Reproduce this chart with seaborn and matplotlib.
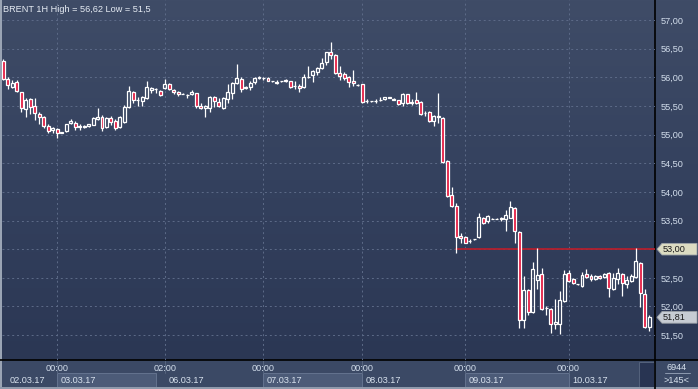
import numpy as np
import pandas as pd
import matplotlib
matplotlib.use("Agg")
import matplotlib.pyplot as plt
import seaborn as sns
from matplotlib.patches import Polygon, Rectangle
from matplotlib.colors import LinearSegmentedColormap
from matplotlib import transforms

# ---------------- data (BRENT 1H candles) ----------------
opens = [56.28, 55.97, 55.83, 55.92, 55.74, 55.45, 55.62, 55.50, 55.36, 55.31,
         55.15, 55.08, 55.10, 55.03, 55.06, 55.20, 55.20, 55.13, 55.14, 55.15,
         55.17, 55.27, 55.31, 55.14, 55.29, 55.24, 55.13, 55.22, 55.48, 55.74,
         55.60, 55.59, 55.64, 55.78, 55.80, 55.76, 55.81, 55.88, 55.78, 55.74,
         55.71, 55.69, 55.70, 55.72, 55.50, 55.47, 55.47, 55.66, 55.57, 55.47,
         55.62, 55.73, 55.90, 55.97, 55.81, 55.83, 55.92, 55.99, 55.98, 55.99,
         55.93, 55.92, 55.93, 55.95, 55.93, 55.84, 55.84, 55.83, 56.00, 56.04,
         56.09, 56.16, 56.26, 56.44, 56.39, 56.08, 56.06, 56.00, 55.93, 55.86,
         55.88, 55.58, 55.58, 55.58, 55.60, 55.62, 55.65, 55.62, 55.60, 55.55,
         55.70, 55.57, 55.60, 55.57, 55.37, 55.39, 55.24, 55.31, 55.29, 54.54,
         53.95, 53.75, 53.23, 53.21, 53.14, 53.17, 53.21, 53.54, 53.49, 53.53,
         53.53, 53.55, 53.52, 53.55, 53.72, 53.30, 51.77, 52.29, 51.90, 52.47,
         52.57, 51.97, 51.96, 51.70, 51.70, 52.10, 52.58, 52.48, 52.39, 52.36,
         52.57, 52.53, 52.48, 52.53, 52.51, 52.58, 52.31, 52.48, 52.57, 52.39,
         52.44, 52.51, 52.76, 52.22, 51.64]
highs = [56.32, 56.00, 55.95, 55.95, 55.75, 55.64, 55.64, 55.64, 55.39, 55.33,
         55.18, 55.14, 55.12, 55.05, 55.19, 55.27, 55.24, 55.18, 55.16, 55.19,
         55.30, 55.46, 55.34, 55.30, 55.33, 55.28, 55.33, 55.51, 55.85, 55.76,
         55.66, 55.67, 55.93, 55.83, 55.82, 55.78, 55.97, 55.90, 55.80, 55.76,
         55.72, 55.70, 55.77, 55.73, 55.55, 55.51, 55.67, 55.67, 55.63, 55.66,
         55.88, 55.91, 56.23, 56.00, 55.84, 55.94, 56.01, 56.02, 56.00, 56.00,
         55.94, 55.95, 55.94, 55.97, 55.94, 55.93, 55.89, 56.06, 56.20, 56.13,
         56.18, 56.34, 56.45, 56.62, 56.40, 56.20, 56.09, 56.03, 56.13, 55.89,
         55.89, 55.62, 55.59, 55.62, 55.65, 55.66, 55.66, 55.63, 55.61, 55.73,
         55.71, 55.62, 55.74, 55.58, 55.42, 55.42, 55.34, 55.72, 55.30, 54.55,
         54.08, 53.80, 53.28, 53.23, 53.17, 53.18, 53.63, 53.56, 53.60, 53.54,
         53.54, 53.57, 53.68, 53.84, 53.73, 53.31, 52.53, 52.30, 52.77, 53.02,
         52.67, 52.00, 51.98, 52.13, 52.27, 52.64, 52.64, 52.50, 52.40, 52.60,
         52.65, 52.56, 52.55, 52.55, 52.58, 52.60, 52.59, 52.67, 52.58, 52.53,
         52.56, 53.02, 52.77, 52.30, 51.85]
lows = [55.95, 55.80, 55.81, 55.74, 55.39, 55.31, 55.36, 55.25, 55.18, 55.11,
        55.03, 55.03, 54.94, 55.02, 55.05, 55.19, 55.08, 55.08, 55.12, 55.13,
        55.16, 55.26, 55.06, 55.12, 55.17, 55.08, 55.11, 55.20, 55.47, 55.55,
        55.50, 55.50, 55.62, 55.72, 55.73, 55.68, 55.80, 55.78, 55.70, 55.68,
        55.70, 55.64, 55.69, 55.46, 55.44, 55.31, 55.39, 55.48, 55.48, 55.45,
        55.55, 55.62, 55.89, 55.75, 55.79, 55.77, 55.88, 55.97, 55.95, 55.94,
        55.92, 55.88, 55.92, 55.92, 55.81, 55.79, 55.75, 55.82, 55.99, 55.92,
        56.04, 56.14, 56.21, 56.32, 56.05, 55.95, 55.96, 55.83, 55.85, 55.84,
        55.55, 55.55, 55.57, 55.55, 55.59, 55.61, 55.63, 55.60, 55.52, 55.50,
        55.53, 55.52, 55.54, 55.35, 55.32, 55.22, 55.15, 55.20, 54.50, 53.91,
        53.74, 52.93, 53.11, 53.10, 53.10, 53.16, 53.20, 53.44, 53.45, 53.52,
        53.52, 53.50, 53.32, 53.54, 53.11, 51.62, 51.62, 51.85, 51.88, 52.30,
        51.94, 51.85, 51.54, 51.60, 51.52, 52.08, 52.42, 52.39, 52.38, 52.34,
        52.49, 52.44, 52.46, 52.48, 52.49, 52.16, 52.28, 52.40, 52.18, 52.33,
        52.43, 52.50, 51.99, 51.62, 51.58]
closes = [55.97, 55.87, 55.90, 55.76, 55.46, 55.60, 55.48, 55.38, 55.31, 55.15,
          55.06, 55.11, 55.03, 55.05, 55.18, 55.24, 55.13, 55.15, 55.15, 55.18,
          55.29, 55.31, 55.12, 55.29, 55.22, 55.12, 55.30, 55.48, 55.76, 55.60,
          55.61, 55.66, 55.83, 55.81, 55.80, 55.69, 55.88, 55.80, 55.74, 55.71,
          55.71, 55.69, 55.74, 55.50, 55.47, 55.50, 55.66, 55.59, 55.50, 55.64,
          55.74, 55.90, 55.99, 55.80, 55.83, 55.90, 55.99, 56.00, 55.98, 55.94,
          55.93, 55.90, 55.93, 55.93, 55.83, 55.84, 55.81, 56.00, 56.01, 56.11,
          56.16, 56.25, 56.44, 56.39, 56.08, 56.02, 55.99, 55.92, 55.90, 55.87,
          55.57, 55.59, 55.58, 55.59, 55.61, 55.65, 55.64, 55.61, 55.53, 55.70,
          55.55, 55.56, 55.55, 55.36, 55.37, 55.24, 55.32, 55.33, 54.52, 53.93,
          53.75, 53.21, 53.20, 53.11, 53.15, 53.17, 53.56, 53.46, 53.58, 53.53,
          53.53, 53.52, 53.59, 53.74, 53.32, 51.77, 52.29, 51.90, 52.65, 52.55,
          51.96, 51.98, 51.70, 51.73, 52.11, 52.57, 52.44, 52.41, 52.39, 52.55,
          52.51, 52.48, 52.53, 52.50, 52.57, 52.32, 52.50, 52.58, 52.41, 52.46,
          52.53, 52.79, 52.23, 51.64, 51.81]

day_start_idx = [12, 36, 58, 80, 103, 126]
time_labels = ["00:00", "02:00", "00:00", "00:00", "00:00", "00:00"]
date_labels = ["02.03.17", "03.03.17", "06.03.17", "07.03.17", "08.03.17", "09.03.17", "10.03.17"]
price_ticks = [51.5, 52.0, 52.5, 53.0, 53.5, 54.0, 54.5, 55.0, 55.5, 56.0, 56.5, 57.0]
level_price = 53.00
level_start_idx = 101
title = "BRENT 1H High = 56,62 Low = 51,5"
bars_total = "6944"
bars_visible = ">145<"

# ---------------- style ----------------
sns.set_theme(style="dark")
plt.rcParams['font.family'] = ['Liberation Sans', 'DejaVu Sans']

W, H = 698, 389
PLOT_L, PLOT_R, PLOT_B = 2, 655, 360
fig = plt.figure(figsize=(W / 100, H / 100), dpi=100)

bg = fig.add_axes([0, 0, 1, 1])
bg.set_xlim(0, W)
bg.set_ylim(H, 0)
bg.axis('off')
grad = np.linspace(0, 1, 256).reshape(-1, 1)
cmap = LinearSegmentedColormap.from_list('bgc', ['#3f4c67', '#34415e', '#2b3754'])
bg.imshow(grad, extent=[0, W, PLOT_B, 0], cmap=cmap, aspect='auto', zorder=0)
bg.add_patch(Rectangle((0, PLOT_B), W, H - PLOT_B, facecolor='#3b4965', edgecolor='none', zorder=1))
# window borders
bg.add_patch(Rectangle((0, 0), 1.5, H, facecolor='#9aa4b4', edgecolor='none', zorder=5))
bg.add_patch(Rectangle((0, H - 2), W, 2, facecolor='#8f9aac', edgecolor='none', zorder=5))
# separators
bg.plot([0, W], [PLOT_B, PLOT_B], color='black', lw=1.2, zorder=6)
bg.plot([PLOT_R, PLOT_R], [0, H], color='black', lw=1.2, zorder=6)
# scroll box
bg.add_patch(Rectangle((639, 362), 15, 25, facecolor='#283452', edgecolor='#55637d', lw=0.7, zorder=4))

ax = fig.add_axes([PLOT_L / W, (H - PLOT_B) / H, (PLOT_R - PLOT_L) / W, PLOT_B / H])
ax.patch.set_alpha(0)
ax.set_zorder(3)

df = pd.DataFrame(dict(o=opens, h=highs, l=lows, c=closes))
df['i'] = np.arange(len(df))
df['top'] = df[['o', 'c']].max(axis=1)
df['bot'] = df[['o', 'c']].min(axis=1)
bull = df['c'] >= df['o']

n = len(df)
ax.set_xlim(-0.29, n + 0.27)
ax.set_ylim(51.066, 57.349)

ax.vlines(df['i'], df['top'], df['h'], color='white', lw=0.9, zorder=3)
ax.vlines(df['i'], df['l'], df['bot'], color='white', lw=0.9, zorder=3)
ax.bar(df['i'], df['top'] - df['bot'], bottom=df['bot'], width=0.66,
       color=np.where(bull, 'none', '#e3173e'), edgecolor='white', linewidth=0.9, zorder=4)

lvl = pd.DataFrame({'x': [level_start_idx, n + 0.27], 'y': [level_price, level_price]})
sns.lineplot(data=lvl, x='x', y='y', ax=ax, color='#b3202e', lw=1.3, zorder=2)
ax.set_xlabel('')
ax.set_ylabel('')

for s in ax.spines.values():
    s.set_visible(False)
ax.yaxis.tick_right()
ax.set_yticks(price_ticks)
# the 53,00 level is shown by its tag instead of a plain tick label
ax.set_yticklabels(['' if abs(v - level_price) < 1e-9 else f"{v:.2f}".replace('.', ',')
                    for v in price_ticks])
ax.set_xticks(day_start_idx)
ax.set_xticklabels(time_labels)
ax.tick_params(axis='y', length=0, pad=3.8, labelsize=6.6, labelcolor='#d3deec')
ax.tick_params(axis='x', length=0, pad=2.6, labelsize=6.6, labelcolor='#d3deec')
ax.grid(True, color='#5d6b88', linestyle=(0, (2, 3)), linewidth=0.7)

# bottom panel: date boxes and labels
btrans = transforms.blended_transform_factory(ax.transData, bg.transData)
box_idx = [(day_start_idx[0], 34), (day_start_idx[2], day_start_idx[3]), (day_start_idx[4], day_start_idx[5])]
for a, b in box_idx:
    bg.add_patch(Rectangle((a, 373), b - a, 14, transform=btrans, facecolor='#4c5b78',
                           edgecolor='#64738f', lw=0.7, zorder=2))
for d in day_start_idx:
    bg.plot([d, d], [PLOT_B, 373], transform=btrans, color='#56657f', lw=0.7, zorder=2)
date_pos = [1.5] + [d + 0.8 for d in day_start_idx]
for xp, lab in zip(date_pos, date_labels):
    bg.text(xp, 380.5, lab, transform=btrans, ha='left', va='center', fontsize=6.6,
            color='#d8e2ee', zorder=7)

# right panel tags
rax = fig.add_axes([PLOT_R / W, (H - PLOT_B) / H, (W - PLOT_R) / W, PLOT_B / H])
rax.set_xlim(0, W - PLOT_R)
rax.set_ylim(ax.get_ylim())
rax.axis('off')
rax.set_zorder(5)
hh = 5.8 / 57.3
for price, fc in [(level_price, '#dcdcc2'), (closes[-1], '#c7ccd3')]:
    rax.add_patch(Polygon([(2, price), (7, price + hh), (42, price + hh), (42, price - hh), (7, price - hh)],
                          closed=True, facecolor=fc, edgecolor='#9da3a8', lw=0.6))
    rax.text(8, price, f"{price:.2f}".replace('.', ','), ha='left', va='center', fontsize=6.6, color='#1b1b1b')

fig.text(3 / W, 1 - 10 / H, title, ha='left', va='center', fontsize=6.6, color='#e6ecf4')
fig.text(677 / W, 1 - 367 / H, bars_total, ha='center', va='center', fontsize=6.6, color='#d8e2ee')
fig.add_artist(plt.Line2D([665 / W, 690 / W], [1 - 373 / H, 1 - 373 / H], color='#8d9ab0', lw=0.7))
fig.text(677 / W, 1 - 380.5 / H, bars_visible, ha='center', va='center', fontsize=6.6, color='#d8e2ee')

fig.savefig('out.png', dpi=100)
